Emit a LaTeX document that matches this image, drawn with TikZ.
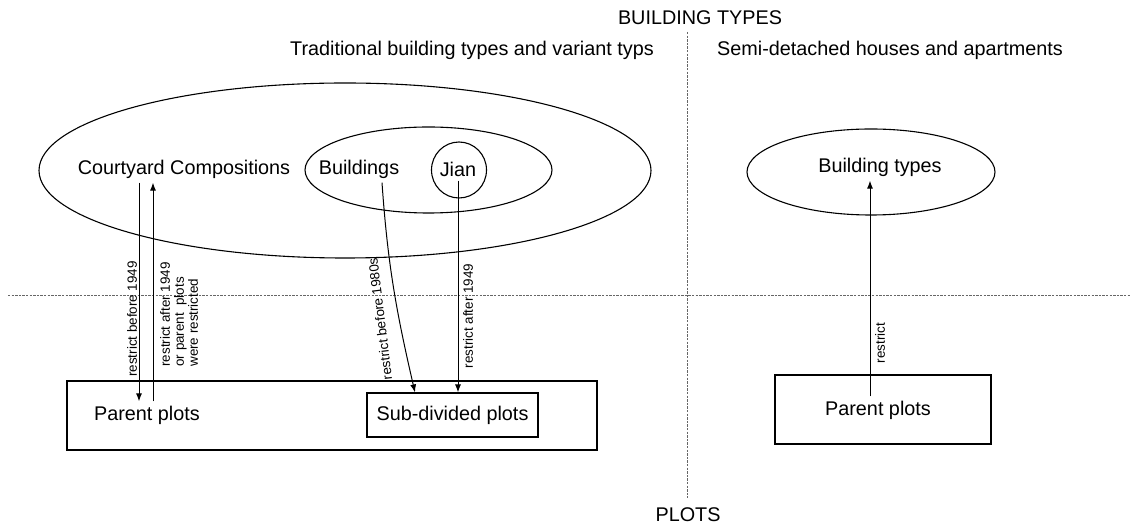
\documentclass[tikz,border=0pt]{standalone}
\usepackage{fontspec}
\setmainfont{Liberation Sans}
\usetikzlibrary{shapes.geometric,arrows.meta}
\begin{document}
\begin{tikzpicture}[x=0.5pt,y=0.5pt,
  txt/.style={inner sep=2pt, font=\fontsize{9.9}{12}\selectfont},
  lbl/.style={inner sep=0pt, font=\fontsize{6.7}{7}\selectfont},
  shp/.style={draw, line width=0.55pt, inner sep=0pt},
  oval/.style={shp, ellipse},
  box/.style={shp, rectangle},
  arr/.style={line width=0.5pt, -{Latex[length=4pt,width=3pt]}},
  divider/.style={draw=gray!80!black, line width=0.45pt, dash pattern=on 1.2pt off 0.6pt}]

\useasboundingbox (0,0) rectangle (1130,530);

% dividers
\coordinate (vt) at (687,498);
\coordinate (vb) at (687,32);
\coordinate (hl) at (8,235);
\coordinate (hr) at (1130,235);
\draw[divider] (vt) -- (vb);
\draw[divider] (hl) -- (hr);

% headings
\node[txt] (title) at (700,512) {BUILDING TYPES};
\node[txt] (plots) at (688,15) {PLOTS};
\node[txt] (trad) at (472,480) {Traditional building types and variant typs};
\node[txt] (semi) at (890,480) {Semi-detached houses and apartments};

% building type shapes
\node[oval, minimum width=306pt, minimum height=87.5pt] (big) at (345,359.5) {};
\node[oval, minimum width=123.5pt, minimum height=43pt] (bell) at (428.5,360) {};
\node[oval, minimum width=27.5pt, minimum height=28pt] (jell) at (459,360) {};
\node[oval, minimum width=124pt, minimum height=43pt] (btell) at (871,358) {};

\node[txt] (cc) at (184,361) {Courtyard Compositions};
\node[txt] (bl) at (359,361) {Buildings};
\node[txt] (jt) at (458,361) {Jian};
\node[txt] (bt) at (880,363) {Building types};

% plot shapes
\node[box, minimum width=265pt, minimum height=34.5pt] (plotL) at (332,114.5) {};
\node[box, minimum width=85.5pt, minimum height=22pt, font=\fontsize{9.9}{12}\selectfont] (sub) at (452.5,115) {Sub-divided plots};
\node[box, minimum width=108pt, minimum height=34.5pt] (plotR) at (883,120.5) {};
\node[txt] (ppl) at (147,115) {Parent plots};
\node[txt] (ppr) at (878,120) {Parent plots};

% connectors
\draw[arr] (cc.south -| 139,0) -- (ppl.north -| 139,0);
\draw[arr] (ppl.north -| 153,0) -- (cc.south -| 153,0);
\draw[arr] (bl.south -| 382,0) to[out=-86, in=103] (sub.north -| 415,0);
\draw[arr] (jt.south -| 458,0) -- (sub.north -| 458,0);
\draw[arr] (ppr.north -| 870,0) -- (bt.south -| 870,0);

% connector labels
\node[lbl, rotate=90] (l1) at (132,211) {restrict before 1949};
\node[lbl, rotate=90, anchor=west, align=left] (l2) at (179,163) {restrict after 1949\\or parent\ \ plots\\were restricted};
\node[lbl, rotate=97] (l3) at (380,211) {restrict before 1980s};
\node[lbl, rotate=90] (l4) at (468,214) {restrict after 1949};
\node[lbl, rotate=90] (l5) at (880,187) {restrict};
\end{tikzpicture}
\end{document}
